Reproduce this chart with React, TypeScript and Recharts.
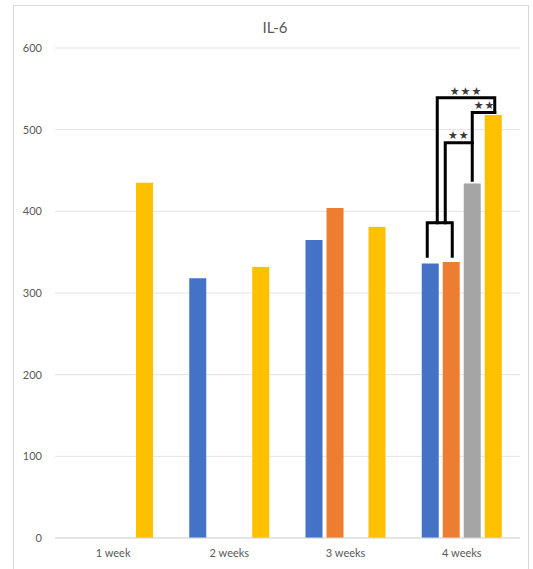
import React from 'react';
import { BarChart, Bar, XAxis, YAxis, CartesianGrid } from 'recharts';

// IL-6 levels per week, four groups
const weeks = ['1 week', '2 weeks', '3 weeks', '4 weeks'];
const group1 = [null, 318, 365, 336];
const group2 = [null, null, 404, 338];
const group3 = [null, null, null, 434];
const group4 = [435, 332, 381, 518];
const yTicks = [0, 100, 200, 300, 400, 500, 600];

const seriesNames = ['Group 1', 'Group 2', 'Group 3', 'Group 4'];
const seriesColors = ['#4472C4', '#ED7D31', '#A5A5A5', '#FFC000'];

// significance bracket levels (data units) over the 4 weeks group
const legBase = 345;
const joinLevel = 386;
const grayLegBase = 438;
const midLevel = 484;
const topLegBase = 521;
const topLevel = 539;
const sigLabels = ['***', '**', '**'];

const BAR_SIZE = 17;
const BAR_GAP = 4;
const FONT = 'Lato, "Open Sans", sans-serif';

const data = weeks.map((w, i) => ({
  week: w,
  g1: group1[i],
  g2: group2[i],
  g3: group3[i],
  g4: group4[i],
}));

const stars = (s: string) => s.replace(/\*/g, '★');

// last series draws its bar and, on the 4 weeks bar, the significance brackets
const LastBarShape = (props: any) => {
  const { x, y, width, height, index, payload, fill } = props;
  const bar = <rect x={x} y={y} width={width} height={height} fill={fill} />;
  if (index !== weeks.length - 1 || !payload) return bar;

  const base = y + height;
  const k = height / payload.g4;
  const py = (v: number) => base - v * k;
  const step = width + BAR_GAP;
  const c = [0, 1, 2, 3].map((i) => x + width / 2 - (3 - i) * step);
  const stem1 = c[0] + 7;
  const stem2 = c[0] + 15;
  const left = c[0] - 3;
  const right = c[1] + 1;
  const far = c[3] + 1.5;

  const lineProps = { stroke: '#000', strokeWidth: 3, fill: 'none', strokeLinecap: 'square' as const };
  const textProps = { fontSize: 11, fill: '#3a3a3a', textAnchor: 'middle' as const, letterSpacing: 1, fontFamily: 'DejaVu Sans' };

  return (
    <g>
      {bar}
      <path d={`M${left},${py(legBase)} V${py(joinLevel)} H${right} V${py(legBase)}`} {...lineProps} />
      <path d={`M${stem1},${py(joinLevel)} V${py(topLevel)} H${far} V${py(topLegBase)}`} {...lineProps} />
      <path d={`M${stem2},${py(joinLevel)} V${py(midLevel)} H${c[2]}`} {...lineProps} />
      <path d={`M${c[2]},${py(grayLegBase)} V${py(topLegBase)} H${far}`} {...lineProps} />
      <text x={(stem1 + far) / 2} y={py(topLevel) - 3} {...textProps}>{stars(sigLabels[0])}</text>
      <text x={(c[2] + far) / 2 + 1} y={py((topLevel + topLegBase) / 2) + 4} {...textProps}>{stars(sigLabels[1])}</text>
      <text x={(stem2 + c[2]) / 2} y={py(midLevel) - 4} {...textProps}>{stars(sigLabels[2])}</text>
    </g>
  );
};

const tickStyle = { fontSize: 11, fill: '#595959', fontFamily: FONT };

export default function App() {
  return (
    <div style={{ position: 'absolute', left: 0, top: 0, width: 533, height: 569, overflow: 'hidden', background: '#fff' }}>
      <div
        style={{
          position: 'absolute',
          left: 13,
          top: 5,
          width: 516,
          height: 600,
          border: '1px solid #d9d9d9',
          boxSizing: 'border-box',
        }}
      >
        <div
          style={{
            position: 'absolute',
            left: 0,
            width: 522,
            top: 12,
            textAlign: 'center',
            fontFamily: FONT,
            fontSize: 15,
            color: '#595959',
          }}
        >
          IL-6
        </div>
        <BarChart
          width={514}
          height={570}
          data={data}
          margin={{ top: 42, right: 8, left: 0, bottom: 12 }}
          barSize={BAR_SIZE}
          barGap={BAR_GAP}
        >
          <CartesianGrid vertical={false} stroke="#e3e3e3" />
          <XAxis
            dataKey="week"
            axisLine={{ stroke: '#d9d9d9' }}
            tickLine={false}
            tickMargin={5}
            height={26}
            tick={tickStyle}
          />
          <YAxis
            domain={[0, 600]}
            ticks={yTicks}
            axisLine={false}
            tickLine={false}
            tickSize={6}
            tickMargin={7}
            width={41}
            tick={tickStyle}
          />
          {['g1', 'g2', 'g3'].map((key, i) => (
            <Bar key={key} dataKey={key} name={seriesNames[i]} fill={seriesColors[i]} isAnimationActive={false} />
          ))}
          <Bar dataKey="g4" name={seriesNames[3]} fill={seriesColors[3]} shape={LastBarShape} isAnimationActive={false} />
        </BarChart>
      </div>
    </div>
  );
}
